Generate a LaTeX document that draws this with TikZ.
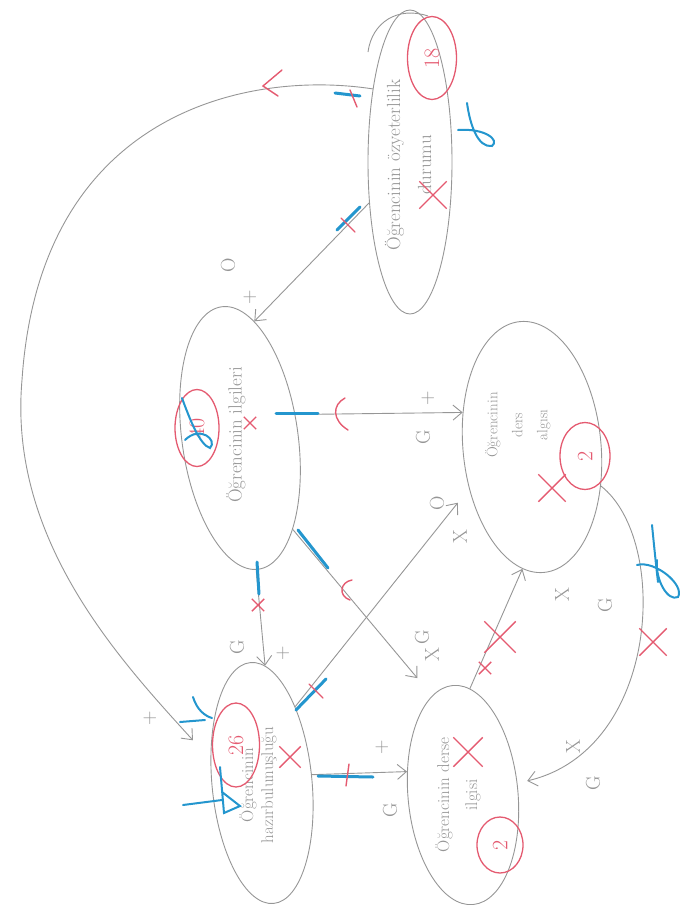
\documentclass[tikz,border=0pt]{standalone}
\usepackage{fontspec}
\usetikzlibrary{shapes.geometric,shapes.misc,arrows.meta}

\definecolor{kursun}{RGB}{150,150,150}
\definecolor{kirmizi}{RGB}{228,90,112}
\definecolor{mavi}{RGB}{36,150,206}

\begin{document}
\begin{tikzpicture}[x=1pt, y=-1pt,
  kavram/.style={draw=kursun, ellipse, line width=0.9pt, inner sep=0pt},
  yazi/.style={text=kursun, rotate=90, align=center, inner sep=0pt},
  ok/.style={draw=kursun, line width=0.9pt, -{Straight Barb[length=9pt,width=15pt]}},
  isaret/.style={text=kursun, rotate=90, inner sep=0pt, font=\fontsize{20}{20}\selectfont},
  halka/.style={draw=kirmizi, ellipse, line width=1.3pt, inner sep=0pt, text=kirmizi, rotate=90, font=\fontsize{22}{22}\selectfont},
  carpi/.style={draw=kirmizi, cross out, line width=1.4pt, inner sep=0pt},
  mavicizgi/.style={draw=mavi, line width=3pt, line cap=round},
  kirmizicizgi/.style={draw=kirmizi, line width=1.4pt, line cap=round}]
\useasboundingbox (0,0) rectangle (691,911);

% kavramlar
\node[kavram, minimum width=84pt, minimum height=304pt] (ozyet) at (410,162) {};
\node[kavram, minimum width=116pt, minimum height=265pt, rotate=8] (ilgi) at (240,438) {};
\node[kavram, minimum width=138pt, minimum height=252pt, rotate=5.5] (algi) at (532,447) {};
\node[kavram, minimum width=100pt, minimum height=242pt, rotate=5.5] (hazir) at (262,783) {};
\node[kavram, minimum width=110pt, minimum height=220pt, rotate=5.3] (derse) at (463,795) {};
\draw[kursun, line width=0.9pt] (368,52) .. controls (372,22) and (398,6) .. (428,16);

\node[yazi, font=\fontsize{19}{31}\selectfont] (ozyet-yazi) at (408,165) {Öğrencinin özyeterlilik\\durumu};
\node[yazi, font=\fontsize{19}{24}\selectfont] (ilgi-yazi) at (236,435) {Öğrencinin ilgileri};
\node[yazi, font=\fontsize{15}{25}\selectfont] (algi-yazi) at (518,425) {Öğrencinin\\ders\\algısı};
\node[yazi, font=\fontsize{17}{20}\selectfont] (hazir-yazi) at (258,785) {Öğrencinin\\hazırbulunuşluğu};
\node[yazi, font=\fontsize{17}{28}\selectfont] (derse-yazi) at (458,795) {Öğrencinin derse\\ilgisi};

% oklar
\draw[ok] (ozyet.225) -- (ilgi.75);
\draw[ok] (ilgi.15) -- (algi.148);
\draw[ok, shorten >=23pt] (ilgi.-68) -- (derse.102);
\draw[ok, shorten >=18pt] (hazir.61) -- (algi.208);
\draw[ok] (ilgi.-91) -- (hazir.83);
\draw[ok] (hazir.4) -- (derse.152);
\draw[ok] (derse.81) -- (algi.260);
\draw[ok, shorten >=10pt] (algi.-35) .. controls (670,540) and (660,750) .. (derse.7);
\draw[ok, shorten >=26pt] (ozyet.117) .. controls (250,70) and (40,110) .. (22,380)
  .. controls (8,540) and (120,660) .. (hazir.150);

% ok etiketleri
\node[isaret] (a-o) at (228,265) {O};
\node[isaret] (a-p) at (250,297) {+};
\node[isaret] (b-p) at (428,398) {+};
\node[isaret] (b-g) at (423,437) {G};
\node[isaret] (c-g) at (422,637) {G};
\node[isaret] (c-x) at (432,655) {X};
\node[isaret] (d-o) at (437,503) {O};
\node[isaret] (d-x) at (460,537) {X};
\node[isaret] (e-g) at (237,647) {G};
\node[isaret] (e-p) at (283,653) {+};
\node[isaret] (f-p) at (382,747) {+};
\node[isaret] (f-g) at (390,810) {G};
\node[isaret] (g-x) at (562,595) {X};
\node[isaret] (g-g) at (605,605) {G};
\node[isaret] (h-x) at (573,747) {X};
\node[isaret] (h-g) at (593,783) {G};
\node[isaret] (i-p) at (150,718) {+};

% kirmizi notlar
\node[halka, minimum width=83pt, minimum height=49pt] (n18) at (432,58) {18};
\node[halka, minimum width=77pt, minimum height=44pt] (n40) at (197,428) {40};
\node[halka, minimum width=84pt, minimum height=47pt] (n26) at (236,745) {26};
\node[halka, minimum width=67pt, minimum height=50pt] (n2a) at (585,456) {2};
\node[halka, minimum width=56pt, minimum height=46pt] (n2b) at (500,845) {2};

\node[carpi, minimum size=26pt] (x-ozyet) at (433,195) {};
\node[carpi, minimum size=11pt] (x-ilgi) at (250,423) {};
\node[carpi, minimum size=26pt] (x-algi) at (552,488) {};
\node[carpi, minimum size=20pt] (x-hazir) at (290,757) {};
\node[carpi, minimum size=28pt] (x-derse) at (468,752) {};
\node[carpi, minimum size=30pt] (x-g1) at (500,637) {};
\node[carpi, minimum size=11pt] (x-g2) at (485,668) {};
\node[carpi, minimum size=26pt] (x-h) at (653,642) {};
\node[carpi, minimum size=11pt] (x-e) at (258,605) {};

% mavi isaretler
\draw[mavicizgi] (335,93) -- (360,96);
\draw[mavicizgi] (337,230) -- (360,207);
\draw[mavicizgi] (276,413) -- (318,413);
\draw[mavicizgi] (298,530) -- (328,568);
\draw[mavicizgi] (257,562) -- (259,594);
\draw[mavicizgi] (296,710) -- (326,679);
\draw[mavicizgi] (318,776) -- (373,777);
\begin{scope}[line width=2pt, mavi, line cap=round]
\draw (467,103) .. controls (470,125) and (478,148) .. (492,146) .. controls (500,140) and (485,128) .. (458,130);
\draw (182,398) .. controls (190,420) and (200,445) .. (210,448) .. controls (218,440) and (200,425) .. (185,440);
\draw (183,805) -- (222,800);
\draw (220,767) -- (224,813) -- (240,806) -- (222,792);
\draw (193,697) .. controls (197,710) and (205,716) .. (212,718);
\draw (180,722) -- (205,720);
\draw (652,525) .. controls (654,545) and (656,565) .. (658,582);
\draw (637,565) .. controls (655,560) and (685,585) .. (678,597) .. controls (668,602) and (655,580) .. (657,560);
\end{scope}

% kirmizi cizikler
\draw[kirmizicizgi] (282,70) -- (263,86) -- (278,96);
\draw[kirmizicizgi] (350,90) -- (357,107);
\draw[kirmizicizgi] (341,218) -- (355,232);
\draw[kirmizicizgi] (345,398) .. controls (332,405) and (332,420) .. (348,430);
\draw[kirmizicizgi] (352,580) .. controls (340,582) and (338,596) .. (350,600);
\draw[kirmizicizgi] (309,684) -- (323,698);
\draw[kirmizicizgi] (349,764) -- (346,786);
\end{tikzpicture}
\end{document}
